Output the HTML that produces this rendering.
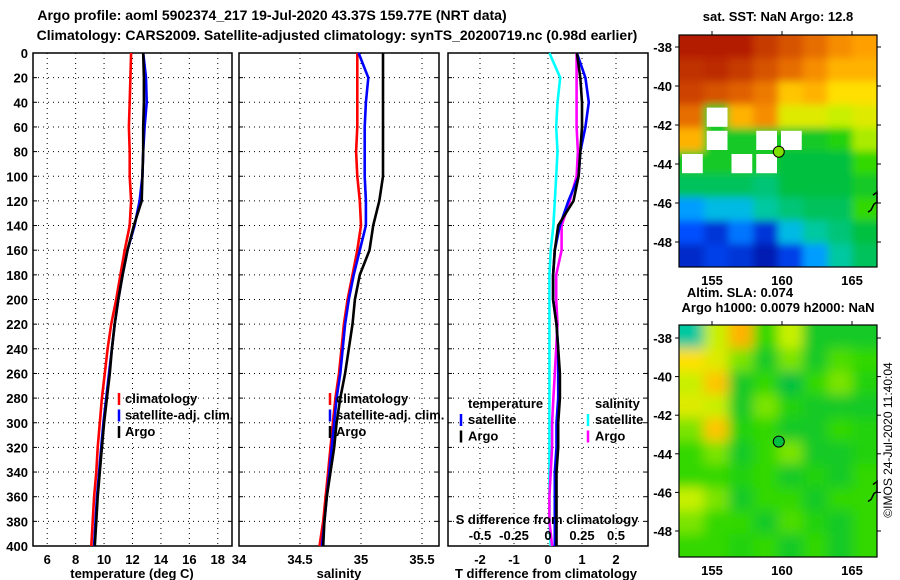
<!DOCTYPE html>
<html><head><meta charset="utf-8"><style>
body{margin:0;background:#fff;}
svg{display:block;font-family:"Liberation Sans",sans-serif;font-weight:bold;}
</style></head><body>
<svg id="c" width="900" height="580" xmlns="http://www.w3.org/2000/svg"></svg>
<script>
const depths=[0,20,40,60,80,100,120,140,160,180,200,220,240,260,280,300,320,340,360,380,400];
const tArgo=[12.75,12.8,12.8,12.75,12.75,12.7,12.65,12.1,11.65,11.3,11.0,10.75,10.55,10.4,10.2,10.0,9.85,9.7,9.55,9.45,9.35];
const tClim=[11.9,11.85,11.8,11.75,11.8,11.8,11.9,11.8,11.45,11.15,10.85,10.5,10.25,10.05,9.85,9.7,9.55,9.45,9.3,9.2,9.1];
const tSat=[12.75,12.95,13.0,12.85,12.75,12.7,12.5,12.15,11.65,11.3,11.0,10.75,10.55,10.35,10.15,9.95,9.8,9.65,9.5,9.4,9.3];
const sArgo=[35.18,35.18,35.18,35.18,35.18,35.18,35.15,35.10,35.07,34.99,34.95,34.93,34.90,34.87,34.83,34.80,34.78,34.75,34.72,34.70,34.69];
const sClim=[34.97,34.97,34.97,34.97,34.96,34.97,34.99,35.0,34.97,34.93,34.89,34.86,34.84,34.82,34.79,34.77,34.75,34.73,34.71,34.69,34.66];
const sSat=[34.98,35.06,35.04,35.03,35.03,35.03,35.04,35.04,34.99,34.94,34.90,34.87,34.85,34.83,34.80,34.78,34.76,34.74,34.72,34.70,34.68];
const depthTicks=[0,20,40,60,80,100,120,140,160,180,200,220,240,260,280,300,320,340,360,380,400];
const tTicks=[6,8,10,12,14,16,18];
const sTicks=[34,34.5,35,35.5];
const dTTicks=[-2,-1,0,1,2];
const dSTicks=[-0.5,-0.25,0,0.25,0.5];
const sstGrid=[
[0.95,0.95,0.95,0.9,0.85,0.8,0.75,0.72],
[0.92,0.93,0.9,0.85,0.8,0.75,0.7,0.7],
[0.88,0.85,0.82,0.78,0.68,0.7,0.65,0.65],
[0.8,null,0.7,0.75,0.62,0.62,0.6,0.62],
[0.7,null,0.45,null,null,0.45,0.48,0.58],
[null,0.45,null,null,0.42,0.42,0.42,0.5],
[0.4,0.4,0.4,0.38,0.42,0.42,0.42,0.45],
[0.25,0.3,0.3,0.35,0.38,0.4,0.4,0.5],
[0.15,0.1,0.2,0.1,0.3,0.35,0.38,0.42],
[0.08,0.12,0.1,0.05,0.12,0.25,0.35,0.4]];
const slaGrid=[
[0.35,0.6,0.7,0.5,0.6,0.45,0.45,0.45],
[0.65,0.62,0.55,0.45,0.55,0.45,0.52,0.5],
[0.6,0.68,0.45,0.5,0.42,0.5,0.55,0.48],
[0.62,0.6,0.45,0.55,0.48,0.45,0.45,0.45],
[0.55,0.68,0.48,0.5,0.45,0.45,0.5,0.48],
[0.5,0.55,0.45,0.5,0.55,0.45,0.45,0.48],
[0.5,0.5,0.48,0.5,0.45,0.48,0.45,0.5],
[0.6,0.55,0.45,0.5,0.5,0.45,0.5,0.5],
[0.55,0.5,0.5,0.45,0.52,0.48,0.45,0.5],
[0.5,0.5,0.48,0.5,0.45,0.5,0.45,0.5]];
const latTicks=[-38,-40,-42,-44,-46,-48];
const lonTicks=[155,160,165];
const argoPos=[159.77,-43.37];

const svg=document.getElementById('c');
const NS='http://www.w3.org/2000/svg';
function mk(tag,a,parent){const e=document.createElementNS(NS,tag);for(const k in a)e.setAttribute(k,a[k]);(parent||svg).appendChild(e);return e;}
function txt(x,y,s,size,anchor,parent){const t=mk('text',{x:x,y:y,'font-size':size,'text-anchor':anchor||'middle',fill:'#000'},parent);t.textContent=s;return t;}
const Y0=53,Y1=546;
const yD=d=>Y0+(d/400)*(Y1-Y0);

function panel(name,x0,x1,xs,ticks,fmt){
  const g=mk('g',{});
  
  
  depthTicks.forEach(d=>{const y=yD(d);mk('line',{x1:x0,x2:x1,y1:y,y2:y,stroke:'#000','stroke-width':1,'stroke-dasharray':'1,4'},g);
    mk('line',{x1:x0,x2:x0+4,y1:y,y2:y,stroke:'#000'},g);mk('line',{x1:x1-4,x2:x1,y1:y,y2:y,stroke:'#000'},g);});
  ticks.forEach(v=>{const x=xs(v);mk('line',{x1:x,x2:x,y1:Y0,y2:Y1,stroke:'#000','stroke-dasharray':'1,4'},g);
    const l=txt(x,564,fmt?fmt(v):String(v),13,'middle',g);});
  mk('rect',{x:x0,y:Y0,width:x1-x0,height:Y1-Y0,fill:'none',stroke:'#000','stroke-width':1.5},g);
  return g;
}
function line(g,xs,vals,color,name){
  const pts=vals.map((v,i)=>xs(v).toFixed(1)+','+yD(depths[i]).toFixed(1)).join(' ');
  const p=mk('polyline',{points:pts,fill:'none',stroke:color,'stroke-width':2.6},g);
  
  
}
let t=txt(272,20,'Argo profile: aoml 5902374_217 19-Jul-2020 43.37S 159.77E (NRT data)',14);

t=txt(337,40,'Climatology: CARS2009. Satellite-adjusted climatology: synTS_20200719.nc (0.98d earlier)',14);

depthTicks.forEach(d=>{const l=txt(28,yD(d)+5,String(d),13,'end');});

const xT=v=>33+(v-5)*(199/14);
const g1=panel('temperature-panel',33,232,xT,tTicks);
line(g1,xT,tClim,'#f00','temp-climatology-line');
line(g1,xT,tSat,'#00f','temp-satellite-line');
line(g1,xT,tArgo,'#000','temp-argo-line');
t=txt(132,578,'temperature (deg C)',13);
function legend(g,x,items){items.forEach((it,i)=>{const y=403+i*16.5;
  const e=mk('g',{},g);
  mk('line',{x1:x,x2:x,y1:y-10,y2:y+2,stroke:it[1],'stroke-width':2.5},e);txt(x+6,y,it[0],13,'start',e);});}
legend(g1,119,[['climatology','#f00'],['satellite-adj. clim.','#00f'],['Argo','#000']]);

const xS=v=>239+(v-34)*122;
const g2=panel('salinity-panel',239,439,xS,sTicks);
line(g2,xS,sClim,'#f00','sal-climatology-line');
line(g2,xS,sSat,'#00f','sal-satellite-line');
line(g2,xS,sArgo,'#000','sal-argo-line');
t=txt(339,578,'salinity',13);
legend(g2,330,[['climatology','#f00'],['satellite-adj. clim.','#00f'],['Argo','#000']]);

const xDT=v=>548+v*34;
const xDS=v=>548+v*136;
const g3=panel('difference-panel',448,648,xDT,dTTicks);
const dSsat=sSat.map((v,i)=>v-sClim[i]);
const dSargo=sArgo.map((v,i)=>v-sClim[i]);
const dTsat=tSat.map((v,i)=>v-tClim[i]);
const dTargo=tArgo.map((v,i)=>v-tClim[i]);
line(g3,xDS,dSsat,'#0ff','sdiff-satellite-line');
line(g3,xDS,dSargo,'#f0f','sdiff-argo-line');
line(g3,xDT,dTsat,'#00f','tdiff-satellite-line');
line(g3,xDT,dTargo,'#000','tdiff-argo-line');
dSTicks.forEach(v=>{const l=txt(xDS(v),540,String(v),13,'middle',g3);});
t=txt(547,524,'S difference from climatology',13,'middle',g3);
t=txt(546,578,'T difference from climatology',13);
t=txt(468,408,'temperature',13,'start',g3);
t=txt(595,408,'salinity',13,'start',g3);
[['satellite','#00f',461],['Argo','#000',461]].forEach((it,i)=>{const y=424+i*16.5;const e=mk('g',{},g3);mk('line',{x1:it[2],x2:it[2],y1:y-10,y2:y+2,stroke:it[1],'stroke-width':2.5},e);txt(it[2]+7,y,it[0],13,'start',e);});
[['satellite','#0ff',588],['Argo','#f0f',588]].forEach((it,i)=>{const y=424+i*16.5;const e=mk('g',{},g3);mk('line',{x1:it[2],x2:it[2],y1:y-10,y2:y+2,stroke:it[1],'stroke-width':2.5},e);txt(it[2]+7,y,it[0],13,'start',e);});

const stops=[[0,[0,0,139]],[0.15,[0,80,255]],[0.28,[0,180,255]],[0.35,[0,200,160]],[0.42,[0,192,64]],[0.5,[48,216,0]],[0.6,[200,240,0]],[0.65,[255,224,0]],[0.72,[255,160,0]],[0.82,[224,96,0]],[0.92,[192,48,0]],[1,[160,0,0]]];
function col(v){for(let i=1;i<stops.length;i++){if(v<=stops[i][0]){const a=stops[i-1],b=stops[i],f=(v-a[0])/(b[0]-a[0]);return 'rgb('+a[1].map((c,k)=>Math.round(c+(b[1][k]-c)*f)).join(',')+')';}}return 'rgb(160,0,0)';}
const defs=mk('defs',{});
const flt=mk('filter',{id:'blur6',x:'-5%',y:'-5%',width:'110%',height:'110%'},defs);
mk('feGaussianBlur',{stdDeviation:6},flt);
const flt2=mk('filter',{id:'blur3',x:'-5%',y:'-5%',width:'110%',height:'110%'},defs);
mk('feGaussianBlur',{stdDeviation:4},flt2);
function map(name,top,bot,lat38y,lat48y,grid,blurId,fillNull){
  const x0=679,x1=877;
  const g=mk('g',{});
  const cp=mk('clipPath',{id:'cp'+name},defs);mk('rect',{x:x0,y:top,width:x1-x0,height:bot-top},cp);
  const gc=mk('g',{'clip-path':'url(#cp'+name+')'},g);
  const inner=mk('g',{filter:'url(#'+blurId+')'},gc);
  const rows=grid.length,cols=grid[0].length,cw=(x1-x0)/cols,ch=(bot-top)/rows;
  grid.forEach((r,i)=>r.forEach((v,j)=>{const val=v===null?fillNull:v;const ex=(j==0||j==cols-1)?20:0,ey=(i==0||i==rows-1)?20:0;
    const c=mk('rect',{x:x0+j*cw-(j==0?ex:0),y:top+i*ch-(i==0?ey:0),width:cw+0.5+ex,height:ch+0.5+ey,fill:col(val)},inner);
    }));
  grid.forEach((r,i)=>r.forEach((v,j)=>{if(v!==null)return;
    const c=mk('rect',{x:x0+j*cw+3,y:top+i*ch+3,width:cw-4,height:ch-4,fill:'#fff'},gc);
    }));
  const lonX=l=>712+(l-155)*14;
  const latY=l=>lat38y+(-38-l)*(lat48y-lat38y)/10;
  mk('rect',{x:x0,y:top,width:x1-x0,height:bot-top,fill:'none',stroke:'#000','stroke-width':1.2},g);
  latTicks.forEach(l=>{const y=latY(l);mk('line',{x1:x0-4,x2:x0,y1:y,y2:y,stroke:'#000'},g);mk('line',{x1:x1,x2:x1+4,y1:y,y2:y,stroke:'#000'},g);
    const lb=txt(672,y+5,String(l),13,'end',g);});
  lonTicks.forEach(l=>{const x=lonX(l);mk('line',{x1:x,x2:x,y1:top-4,y2:top,stroke:'#000'},g);
    const lb=txt(x,bot+18,String(l),13,'middle',g);});
  const m=mk('circle',{cx:lonX(argoPos[0]),cy:latY(argoPos[1]),r:5.5,fill:blurId=='blur6'?'#00c040':'#80e000',stroke:'#000','stroke-width':1},g);
  
  mk('path',{d:'M873,'+(latY(-45.8)-4)+' l4,-3 v10 l-3,2 l-3,6 l-3,2',fill:'none',stroke:'#000','stroke-width':1.5},g);
  return g;
}
map('sst-map',35,267,47,242,sstGrid,'blur3',0.45);
map('sla-map',325,557,338,531,slaGrid,'blur6',0.48);
t=txt(778,21,'sat. SST: NaN Argo: 12.8',13);
t=txt(740,297,'Altim. SLA: 0.074',13);
t=txt(778,312,'Argo h1000: 0.0079 h2000: NaN',13);
t=mk('text',{x:0,y:0,'font-size':12,'font-weight':'normal','text-anchor':'middle',transform:'translate(892,440) rotate(-90)'});
t.textContent='©IMOS 24-Jul-2020 11:40:04';

</script>
</body></html>
